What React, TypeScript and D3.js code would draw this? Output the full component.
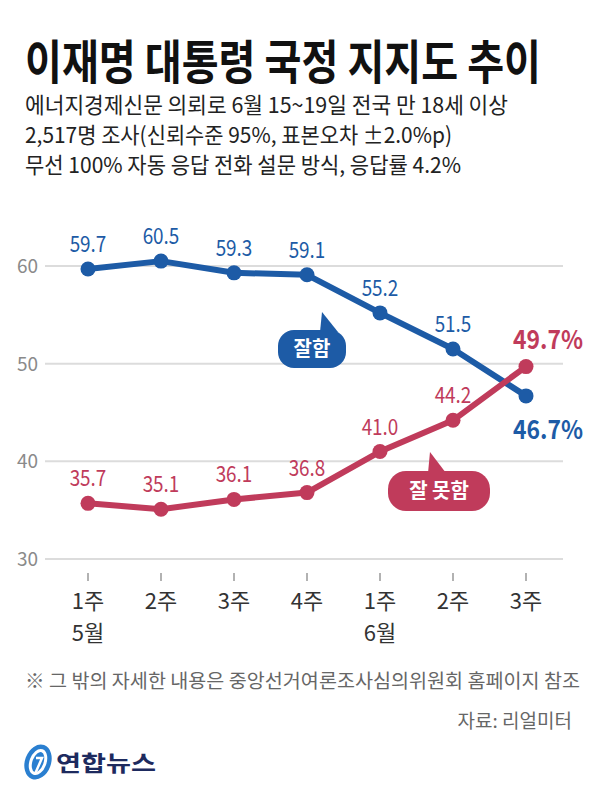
import * as d3 from "d3"

const weeks = ["1주", "2주", "3주", "4주", "1주", "2주", "3주"]
const months = ["5월", "", "", "", "6월", "", ""]
const approve = [59.7, 60.5, 59.3, 59.1, 55.2, 51.5, 46.7]
const disapprove = [35.7, 35.1, 36.1, 36.8, 41.0, 44.2, 49.7]
const yTicks = [30, 40, 50, 60]

const BLUE = "#1d5ba6"
const RED = "#c03b5b"
const FONT = "'Noto Sans CJK KR', 'Noto Sans', sans-serif"

const subtitle = [
  "에너지경제신문 의뢰로 6월 15~19일 전국 만 18세 이상",
  "2,517명 조사(신뢰수준 95%, 표본오차 ±2.0%p)",
  "무선 100% 자동 응답 전화 설문 방식, 응답률 4.2%",
]
const subtitleWidths = [483, 427, 436]

export default function App() {
  const idx = d3.range(weeks.length)
  const x = d3.scalePoint<number>().domain(idx).range([88, 526])
  const y = d3.scaleLinear().domain([30, 60]).range([559, 266])
  const line = d3
    .line<number>()
    .x((_, i) => x(i)!)
    .y((d) => y(d))

  const last = weeks.length - 1

  const series = [
    { values: approve, color: BLUE },
    { values: disapprove, color: RED },
  ]

  return (
    <svg
      width={600}
      height={795}
      style={{ position: "absolute", left: 0, top: 0, display: "block", background: "#fff" }}
      fontFamily={FONT}
    >
      <rect width={600} height={795} fill="#fff" />

      {/* title */}
      <text x={25} y={79} fontSize={47} fontWeight="bold" fill="#111" textLength={516} lengthAdjust="spacingAndGlyphs">
        이재명 대통령 국정 지지도 추이
      </text>
      {subtitle.map((s, i) => (
        <text
          key={i}
          x={25}
          y={113 + i * 30}
          fontSize={22}
          fill="#222"
          textLength={subtitleWidths[i]}
          lengthAdjust="spacingAndGlyphs"
        >
          {s}
        </text>
      ))}

      {/* grid */}
      {yTicks.map((t) => (
        <g key={t}>
          <line x1={45} x2={563} y1={y(t)} y2={y(t)} stroke="#dcdcdc" strokeWidth={2} />
          <text x={38} y={y(t) + 7} fontSize={19} fill="#8a8a8a" textAnchor="end">
            {t}
          </text>
        </g>
      ))}

      {/* x axis */}
      {idx.map((i) => (
        <g key={i} transform={`translate(${x(i)},0)`}>
          <line y1={573} y2={581} stroke="#999" strokeWidth={1.5} />
          <text y={609} fontSize={22} fill="#333" textAnchor="middle">
            {weeks[i]}
          </text>
          {months[i] && (
            <text y={641} fontSize={22} fill="#333" textAnchor="middle">
              {months[i]}
            </text>
          )}
        </g>
      ))}

      {/* lines */}
      {series.map((s) => (
        <g key={s.color}>
          <path d={line(s.values)!} fill="none" stroke={s.color} strokeWidth={6} strokeLinejoin="round" />
          {s.values.map((v, i) => (
            <circle key={i} cx={x(i)} cy={y(v)} r={7.5} fill={s.color} />
          ))}
          {s.values.slice(0, last).map((v, i) => (
            <text
              key={i}
              transform={`translate(${x(i)},${y(v) - 17}) scale(0.86,1)`}
              fontSize={22}
              fill={s.color}
              textAnchor="middle"
            >
              {v.toFixed(1)}
            </text>
          ))}
        </g>
      ))}

      {/* final values */}
      <text
        transform={`translate(${x(last)! + 22},${y(disapprove[last]) - 18}) scale(0.88,1)`}
        fontSize={26}
        fontWeight="bold"
        fill={RED}
        textAnchor="middle"
      >
        {disapprove[last].toFixed(1)}%
      </text>
      <text
        transform={`translate(${x(last)! + 22},${y(approve[last]) + 43}) scale(0.88,1)`}
        fontSize={26}
        fontWeight="bold"
        fill={BLUE}
        textAnchor="middle"
      >
        {approve[last].toFixed(1)}%
      </text>

      {/* callouts */}
      <g>
        <rect x={278} y={330} width={68} height={38} rx={16} fill={BLUE} />
        <path d="M320,332 L322,312 L338,332 Z" fill={BLUE} />
        <text x={312} y={356} fontSize={20} fontWeight="bold" fill="#fff" textAnchor="middle">
          잘함
        </text>
      </g>
      <g>
        <rect x={388} y={471} width={102} height={40} rx={18} fill={RED} />
        <path d="M428,473 L430,452 L446,473 Z" fill={RED} />
        <text x={439} y={498} fontSize={20} fontWeight="bold" fill="#fff" textAnchor="middle">
          잘 못함
        </text>
      </g>

      {/* footnote */}
      <text x={25} y={688} fontSize={19} fill="#666" textLength={555} lengthAdjust="spacingAndGlyphs">
        ※ 그 밖의 자세한 내용은 중앙선거여론조사심의위원회 홈페이지 참조
      </text>
      <text x={572} y={728} fontSize={19} fill="#666" textAnchor="end">
        자료: 리얼미터
      </text>

      {/* logo */}
      <g transform="translate(38,762)">
        <ellipse rx={13} ry={18} fill="#2a7fd0" transform="rotate(20)" />
        <ellipse rx={7} ry={12} fill="none" stroke="#fff" strokeWidth={3} transform="rotate(20)" />
        <path d="M-2,-4 L4,-4 L-3,12" fill="none" stroke="#fff" strokeWidth={2.5} />
      </g>
      <text x={56} y={771} fontSize={22} fontWeight="bold" fill="#1d2a5e" textLength={100} lengthAdjust="spacingAndGlyphs">
        연합뉴스
      </text>
    </svg>
  )
}
